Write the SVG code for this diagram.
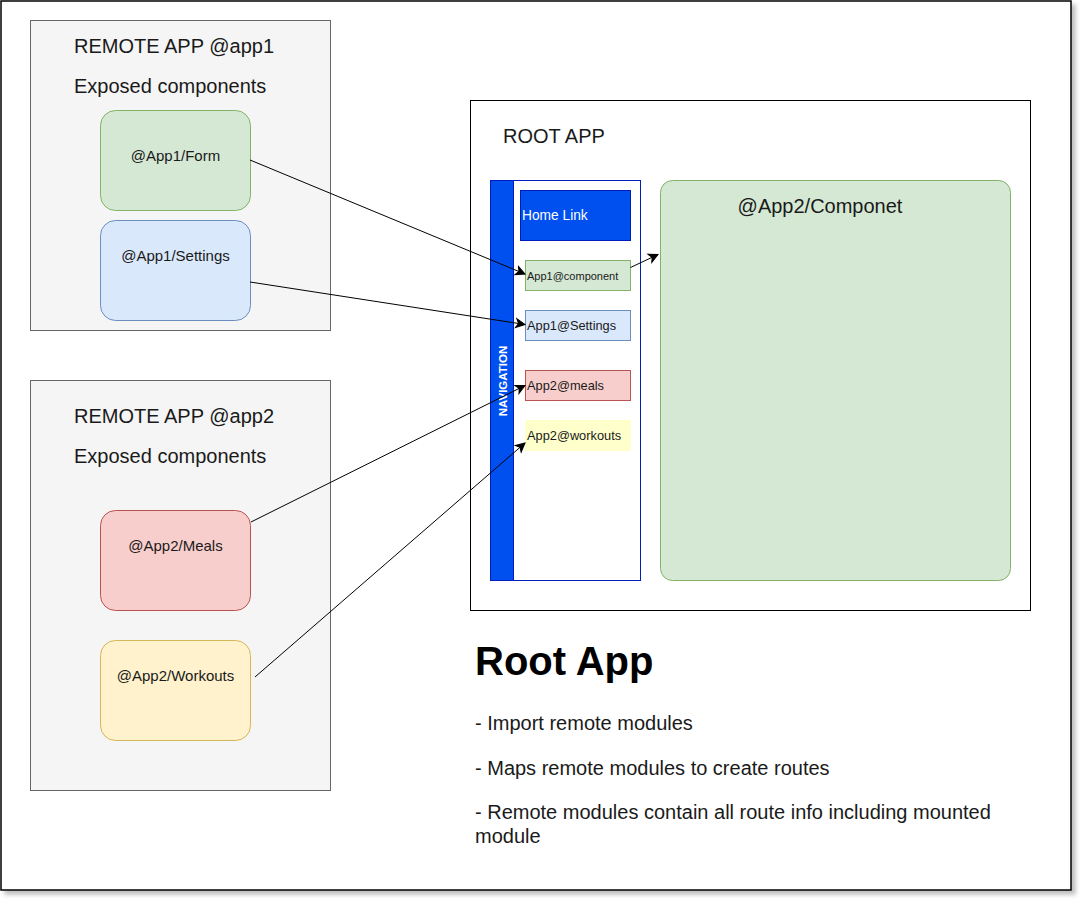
<svg xmlns="http://www.w3.org/2000/svg" width="1082" height="903" viewBox="0 0 1082 903">
<defs>
<filter id="sh" x="-5%" y="-5%" width="110%" height="110%">
<feDropShadow dx="4" dy="4" stdDeviation="2" flood-color="#000" flood-opacity="0.25"/>
</filter>
<marker id="arr" markerUnits="userSpaceOnUse" markerWidth="12" markerHeight="12" viewBox="0 0 12 12" refX="10" refY="6" orient="auto">
<path d="M1,1.5 L10,6 L1,10.5 L3.5,6 Z" fill="#000" stroke="#000" stroke-width="1"/>
</marker>
<style>
text{font-family:"Liberation Sans",Arial,sans-serif;}
.big{font-size:20px;fill:#1a1a1a;}
.mid{font-size:15px;fill:#1a1a1a;}
.box{stroke-width:1;}
.green{fill:#d5e8d4;stroke:#82b366;}
.blue{fill:#dae8fc;stroke:#6c8ebf;}
.red{fill:#f8cecc;stroke:#b85450;}
.yellow{fill:#fff2cc;stroke:#d6b656;}
.conn{fill:none;stroke:#000;stroke-width:1;marker-end:url(#arr);}
</style>
</defs>
<rect width="1082" height="903" fill="#fff"/>
<rect id="frame" x="1" y="1" width="1070" height="889" fill="#fff" stroke="#000" stroke-width="1.5" filter="url(#sh)"/>

<g id="remote1">
<rect x="30.5" y="20.5" width="300" height="310" fill="#f5f5f5" stroke="#666"/>
<text class="big" x="74" y="53">REMOTE APP @app1</text>
<text class="big" x="74" y="93">Exposed components</text>
</g>
<g id="app1-form">
<rect class="green" x="100.5" y="110.5" width="150" height="100" rx="15"/>
<text class="mid" x="175.5" y="161" text-anchor="middle">@App1/Form</text>
</g>
<g id="app1-settings">
<rect class="blue" x="100.5" y="220.5" width="150" height="100" rx="15"/>
<text class="mid" x="175.5" y="261" text-anchor="middle">@App1/Settings</text>
</g>

<g id="remote2">
<rect x="30.5" y="380.5" width="300" height="410" fill="#f5f5f5" stroke="#666"/>
<text class="big" x="74" y="423">REMOTE APP @app2</text>
<text class="big" x="74" y="463">Exposed components</text>
</g>
<g id="app2-meals">
<rect class="red" x="100.5" y="510.5" width="150" height="100" rx="15"/>
<text class="mid" x="175.5" y="551" text-anchor="middle">@App2/Meals</text>
</g>
<g id="app2-workouts">
<rect class="yellow" x="100.5" y="640.5" width="150" height="100" rx="15"/>
<text class="mid" x="175.5" y="681" text-anchor="middle">@App2/Workouts</text>
</g>

<g id="root-app">
<rect x="470.5" y="100.5" width="560" height="510" fill="#fff" stroke="#000"/>
<text class="big" x="503" y="143">ROOT APP</text>
</g>
<g id="navigation">
<rect x="490.5" y="180.5" width="150" height="400" fill="#fff" stroke="#001dbc"/>
<rect x="490.5" y="180.5" width="23" height="400" fill="#0050ef" stroke="#001dbc"/>
<text x="0" y="0" transform="translate(506.5,381) rotate(-90)" text-anchor="middle" font-size="11.5" font-weight="bold" fill="#fff">NAVIGATION</text>
</g>
<g id="home-link">
<rect x="520.5" y="190.5" width="110" height="50" fill="#0050ef" stroke="#001dbc"/>
<text x="522" y="220" font-size="13.75" fill="#fff">Home Link</text>
</g>
<g id="nav-app1-component">
<rect class="green" x="525.5" y="260.5" width="105" height="30"/>
<text x="527" y="280" font-size="11" fill="#1a1a1a">App1@component</text>
</g>
<g id="nav-app1-settings">
<rect class="blue" x="525.5" y="310.5" width="105" height="30"/>
<text x="527" y="330" font-size="12.8" fill="#1a1a1a">App1@Settings</text>
</g>
<g id="nav-app2-meals">
<rect class="red" x="525.5" y="370.5" width="105" height="30"/>
<text x="527" y="390" font-size="12.8" fill="#1a1a1a">App2@meals</text>
</g>
<g id="nav-app2-workouts">
<rect x="525" y="420" width="106" height="31" fill="#ffffcc"/>
<text x="527" y="440" font-size="12.8" fill="#1a1a1a">App2@workouts</text>
</g>
<g id="app2-component">
<rect class="green" x="660.5" y="180.5" width="350" height="400" rx="12"/>
<text class="big" x="820" y="213" text-anchor="middle">@App2/Componet</text>
</g>

<g id="connectors">
<path class="conn" d="M250,160 L525,274"/>
<path class="conn" d="M250,282 L525,324.5"/>
<path class="conn" d="M251,522 L525,385.5"/>
<path class="conn" d="M255,677 L525,443"/>
<path class="conn" d="M630.5,267.5 L658,254.5"/>
</g>

<g id="notes">
<text x="475" y="675" font-size="40" font-weight="bold" fill="#000">Root App</text>
<text class="big" x="475" y="730">- Import remote modules</text>
<text class="big" x="475" y="775">- Maps remote modules to create routes</text>
<text class="big" x="475" y="819">- Remote modules contain all route info including mounted</text>
<text class="big" x="475" y="843">module</text>
</g>
</svg>
